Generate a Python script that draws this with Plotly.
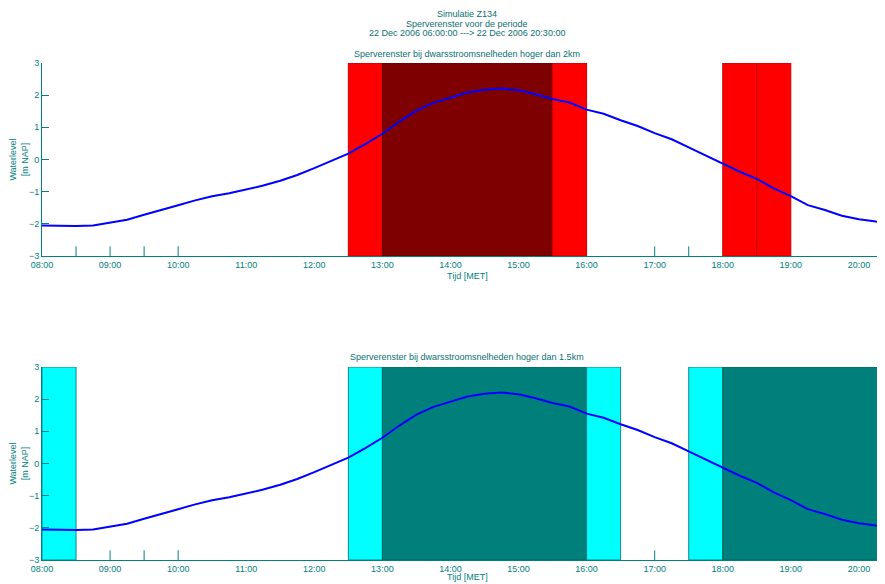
import plotly.graph_objects as go

# ---- data ----
times = ["08:00", "08:15", "08:30", "08:45", "09:00", "09:15", "09:30", "09:45",
         "10:00", "10:15", "10:30", "10:45", "11:00", "11:15", "11:30", "11:45",
         "12:00", "12:15", "12:30", "12:45", "13:00", "13:15", "13:30", "13:45",
         "14:00", "14:15", "14:30", "14:45", "15:00", "15:15", "15:30", "15:45",
         "16:00", "16:15", "16:30", "16:45", "17:00", "17:15", "17:30", "17:45",
         "18:00", "18:15", "18:30", "18:45", "19:00", "19:15", "19:30", "19:45",
         "20:00", "20:15", "20:30"]
waterlevel = [-2.05, -2.06, -2.07, -2.05, -1.96, -1.87, -1.72, -1.56,
              -1.42, -1.27, -1.14, -1.05, -0.94, -0.81, -0.66, -0.48,
              -0.27, -0.05, 0.18, 0.48, 0.80, 1.18, 1.52, 1.76,
              1.93, 2.08, 2.17, 2.21, 2.15, 2.03, 1.88, 1.77,
              1.55, 1.42, 1.22, 1.04, 0.82, 0.63, 0.38, 0.12,
              -0.12, -0.38, -0.60, -0.90, -1.14, -1.42, -1.57, -1.75,
              -1.86, -1.93, -1.97]

# blocking windows (start, end, colour-kind)
windows_top = [("12:30", "13:00", "light"), ("13:00", "15:30", "dark"),
               ("15:30", "16:00", "light"), ("18:00", "18:30", "light"),
               ("18:30", "19:00", "light")]
windows_bottom = [("08:00", "08:30", "light"), ("12:30", "13:00", "light"),
                  ("13:00", "16:00", "dark"), ("16:00", "16:30", "light"),
                  ("17:30", "18:00", "light"), ("18:00", "20:30", "dark")]

marks_top = ["08:30", "09:00", "09:30", "10:00", "17:00", "17:30"]
marks_bottom = ["09:00", "09:30", "10:00", "17:00"]

yticks = [3, 2, 1, 0, -1, -2, -3]
day = "2006-12-22 "

title_lines = ["Simulatie Z134", "Sperverenster voor de periode",
               "22 Dec 2006 06:00:00 ---> 22 Dec 2006 20:30:00"]
sub_top = "Sperverenster bij dwarsstroomsnelheden hoger dan 2km"
sub_bottom = "Sperverenster bij dwarsstroomsnelheden hoger dan 1.5km"
xtitle = "Tijd [MET]"

TEAL = "#008080"
TXT = "#0a7070"
FONT = "Liberation Sans, Arial, sans-serif"

# page body adds an 8px offset; work in screen pixels and convert
OFF = 8
W, H = 885 - OFF, 584 - OFF
ml, mr, mt, mb = 42 - OFF, 0, 63 - OFF, 24
ph = H - mt - mb
top_dom = [1 - 193 / ph, 1]
bot_dom = [0, 1 - (367 - 63) / ph]

fig = go.Figure()
x = [day + t for t in times]
colors = {
    "top": {"light": ("#ff0000", "#c80000"), "dark": ("#7f0000", "#6a0000")},
    "bottom": {"light": ("#00ffff", "#208080"), "dark": ("#007f7b", "#006a66")},
}

for idx, (wins, marks, key) in enumerate([(windows_top, marks_top, "top"),
                                          (windows_bottom, marks_bottom, "bottom")]):
    xa = "x" if idx == 0 else "x2"
    ya = "y" if idx == 0 else "y2"
    for s, e, kind in wins:
        fc, lc = colors[key][kind]
        fig.add_shape(type="rect", xref=xa, yref=ya, x0=day + s, x1=day + e,
                      y0=-3, y1=3, fillcolor=fc, line=dict(color=lc, width=1),
                      layer="below")
    for m in marks:
        fig.add_shape(type="line", xref=xa, yref=ya, x0=day + m, x1=day + m,
                      y0=-3, y1=-2.7, line=dict(color=TEAL, width=1))
    fig.add_trace(go.Scatter(x=x, y=waterlevel, mode="lines",
                             line=dict(color="#0000ff", width=2),
                             xaxis=xa, yaxis=ya, showlegend=False))

xcommon = dict(type="date", range=[day + "08:00", day + "20:23"],
               tickformat="%H:%M", dtick=3600000, tick0=day + "08:00",
               showgrid=False, zeroline=False, showline=True, linecolor=TEAL,
               linewidth=1, ticks="", automargin=False,
               tickfont=dict(size=9, color=TEAL, family=FONT))
ycommon = dict(range=[-3, 3], tickvals=yticks, showgrid=False, zeroline=False,
               showline=True, linecolor=TEAL, linewidth=1, ticks="inside",
               ticklen=7, tickcolor=TEAL, automargin=False,
               tickfont=dict(size=9, color=TEAL, family=FONT),
               title=dict(text="Waterlevel<br>[m NAP]",
                          font=dict(size=9, color=TEAL, family=FONT), standoff=6))

fig.update_layout(
    width=W, height=H, margin=dict(l=ml, r=mr, t=mt, b=mb),
    paper_bgcolor="white", plot_bgcolor="white",
    xaxis=dict(**xcommon, domain=[0, 1], anchor="y"),
    yaxis=dict(**ycommon, domain=top_dom, anchor="x"),
    xaxis2=dict(**xcommon, domain=[0, 1], anchor="y2"),
    yaxis2=dict(**ycommon, domain=bot_dom, anchor="x2"),
    font=dict(family=FONT),
)

cx = (467 - 42) / (885 - 42)
def py(pix):
    return 1 - (pix - OFF - mt) / ph

for t, yy in zip(title_lines, [14, 24, 33]):
    fig.add_annotation(text=t, x=cx, y=py(yy), xref="paper", yref="paper",
                       showarrow=False, yanchor="middle",
                       font=dict(size=9, color=TXT, family=FONT))
fig.add_annotation(text=sub_top, x=cx, y=py(54), xref="paper", yref="paper",
                   showarrow=False, yanchor="middle",
                   font=dict(size=9, color=TXT, family=FONT))
fig.add_annotation(text=sub_bottom, x=cx, y=py(357), xref="paper", yref="paper",
                   showarrow=False, yanchor="middle",
                   font=dict(size=9, color=TXT, family=FONT))
for yy in [276, 577]:
    fig.add_annotation(text=xtitle, x=cx, y=py(yy), xref="paper", yref="paper",
                       showarrow=False, yanchor="middle",
                       font=dict(size=9, color=TEAL, family=FONT))

fig.write_html("out.html")
